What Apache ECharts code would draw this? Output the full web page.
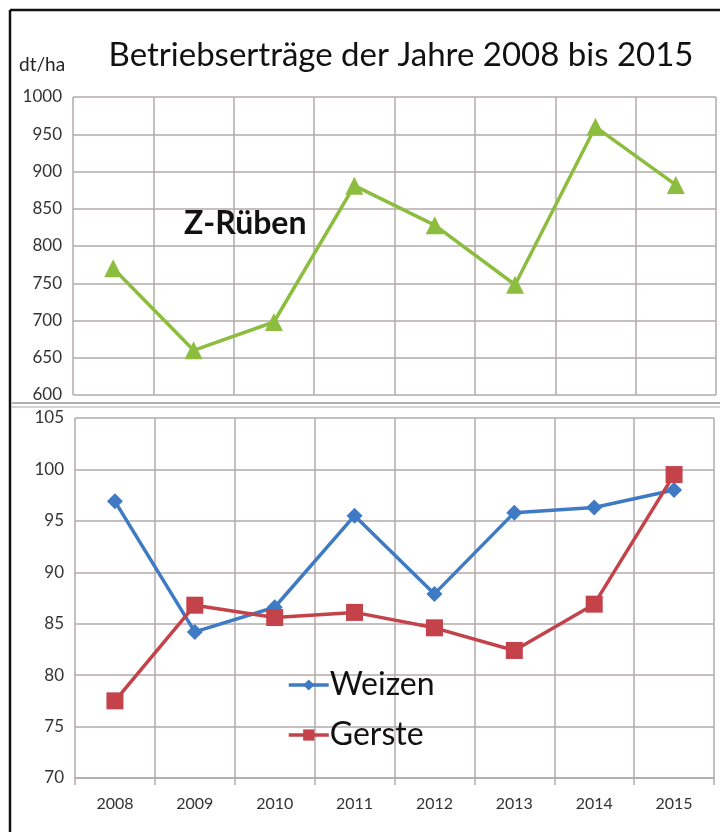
<!DOCTYPE html>
<html>
<head>
<meta charset="utf-8">
<script src="https://cdn.jsdelivr.net/npm/echarts@6/dist/echarts.min.js"></script>
<style>
html,body{margin:0;padding:0;background:#fff;}
#c{width:720px;height:832px;}
</style>
</head>
<body>
<div id="c"></div>
<script>
var years = ['2008','2009','2010','2011','2012','2013','2014','2015'];
var rueben = [770, 660, 698, 881, 828, 748, 960, 882];
var weizen = [96.9, 84.2, 86.6, 95.5, 87.9, 95.8, 96.3, 98.0];
var gerste = [77.5, 86.8, 85.6, 86.1, 84.6, 82.4, 86.9, 99.5];
var topTicks = [600, 1000, 50];
var botTicks = [70, 105, 5];

var FONT = 'Lato';
var gridColor = '#b3aaaa';
var chart = echarts.init(document.getElementById('c'));
var yLabel = {fontFamily: FONT, fontSize: 17, color: '#333', margin: 11, formatter: function (v) { return String(v); }};
chart.setOption({
  backgroundColor: '#fff',
  animation: false,
  title: [
    {text: 'Betriebserträge der Jahre 2008 bis 2015', left: 396, top: 34, textAlign: 'center',
     textStyle: {fontFamily: FONT, fontSize: 33, fontWeight: 'normal', color: '#111'}},
    {text: 'dt/ha', left: 14, top: 50, textStyle: {fontFamily: FONT, fontSize: 19, fontWeight: 'normal', color: '#222'}},
    {text: 'Z-Rüben', left: 179, top: 203, textStyle: {fontFamily: FONT, fontSize: 32, fontWeight: 'bold', color: '#111'}}
  ],
  legend: {
    data: ['Weizen', 'Gerste'], orient: 'vertical', left: 282, top: 664,
    itemWidth: 40, itemHeight: 14, itemGap: 18,
    lineStyle: {width: 3.5},
    textStyle: {fontFamily: FONT, fontSize: 32, color: '#111', padding: [0,0,0,-4]}
  },
  grid: [
    {left: 73, right: 4, top: 97, height: 298},
    {left: 75, right: 6, top: 418, height: 360}
  ],
  xAxis: [
    {type: 'category', data: years, gridIndex: 0, boundaryGap: true,
     axisLine: {show: false}, axisTick: {show: false}, axisLabel: {show: false},
     splitLine: {show: true, lineStyle: {color: gridColor, width: 1.5}}},
    {type: 'category', data: years, gridIndex: 1, boundaryGap: true,
     axisLine: {show: true, lineStyle: {color: gridColor, width: 1.5}},
     axisTick: {show: true, length: 7, lineStyle: {color: gridColor, width: 1.5}},
     axisLabel: {fontFamily: FONT, fontSize: 16, color: '#333', margin: 18},
     splitLine: {show: true, lineStyle: {color: gridColor, width: 1.5}}}
  ],
  yAxis: [
    {type: 'value', gridIndex: 0, min: topTicks[0], max: topTicks[1], interval: topTicks[2],
     axisLine: {show: false}, axisTick: {show: false}, axisLabel: yLabel,
     splitLine: {lineStyle: {color: gridColor, width: 1.5}}},
    {type: 'value', gridIndex: 1, min: botTicks[0], max: botTicks[1], interval: botTicks[2],
     axisLine: {show: false}, axisTick: {show: false}, axisLabel: yLabel,
     splitLine: {lineStyle: {color: gridColor, width: 1.5}}}
  ],
  series: [
    {name: 'Z-Rüben', type: 'line', xAxisIndex: 0, yAxisIndex: 0, data: rueben,
     symbol: 'triangle', symbolSize: 18, color: '#8cbd3f',
     lineStyle: {width: 3.5, color: '#8cbd3f'}, itemStyle: {color: '#8cbd3f'}},
    {name: 'Weizen', type: 'line', xAxisIndex: 1, yAxisIndex: 1, data: weizen,
     symbol: 'diamond', symbolSize: 16, color: '#3f7ac4',
     lineStyle: {width: 3.5, color: '#3f7ac4'}, itemStyle: {color: '#3f7ac4'}},
    {name: 'Gerste', type: 'line', xAxisIndex: 1, yAxisIndex: 1, data: gerste,
     symbol: 'rect', symbolSize: 17, color: '#c4424a',
     lineStyle: {width: 3.5, color: '#c4424a'}, itemStyle: {color: '#c4424a'}}
  ],
  graphic: [
    {type: 'line', shape: {x1: 10, y1: 10, x2: 720, y2: 10}, style: {stroke: '#111', lineWidth: 2.5}},
    {type: 'line', shape: {x1: 10, y1: 10, x2: 10, y2: 832}, style: {stroke: '#111', lineWidth: 2.5}},
    {type: 'line', shape: {x1: 12, y1: 403, x2: 720, y2: 403}, style: {stroke: '#9a9494', lineWidth: 1.5}},
    {type: 'line', shape: {x1: 12, y1: 407, x2: 720, y2: 407}, style: {stroke: '#c8c2c2', lineWidth: 1.5}}
  ]
});
</script>
</body>
</html>
